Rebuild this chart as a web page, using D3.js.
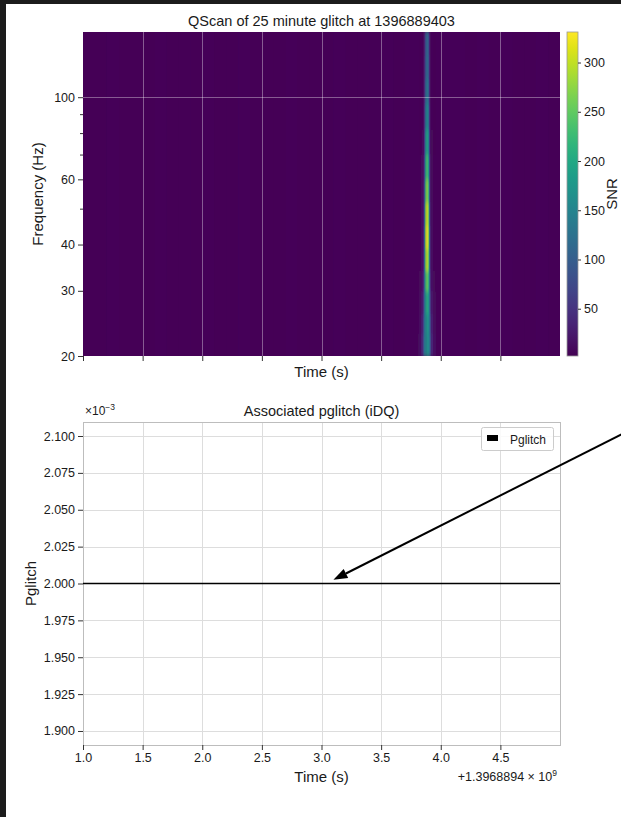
<!DOCTYPE html>
<html>
<head>
<meta charset="utf-8">
<script src="https://cdn.jsdelivr.net/npm/d3@7"></script>
<style>
  html, body { margin: 0; padding: 0; background: #ffffff; }
  svg { display: block; }
  text { font-family: "Liberation Sans", Arial, Helvetica, sans-serif; }
</style>
</head>
<body>
<script>
// ---- data -------------------------------------------------------------
// GPS times are stored as seconds after this offset.
const gpsOffset = 1396889400;
const timeRange = [1.0, 5.0];
const timeTicks = [1.0, 1.5, 2.0, 2.5, 3.0, 3.5, 4.0, 4.5];

// Q-scan axes
const freqRange = [20, 150];
const freqTicks = [20, 30, 40, 60, 100];
const freqMinorTicks = [50, 70, 80, 90];
const freqGridLines = [100];
const snrRange = [2, 331];
const snrTicks = [50, 100, 150, 200, 250, 300];

// Quiet background SNR, one value per 0.1 s column from 1.0 s to 5.0 s
const backgroundSnr = [
  5, 4, 6, 5, 4, 5, 6, 4, 5, 5,
  6, 4, 5, 6, 5, 4, 5, 6, 5, 4,
  5, 6, 4, 5, 5, 6, 5, 6, 7, 7,
  6, 6, 5, 6, 5, 6, 5, 5, 6, 5
];

// The glitch tile: time offsets (s) around the peak and frequency bin edges (Hz)
const glitchTime = 3.885;
const glitchOffsetEdges = [-0.07, -0.05, -0.035, -0.025, -0.015, -0.005, 0.005, 0.015, 0.025, 0.035, 0.05, 0.07];
const glitchFreqEdges = [20, 23, 26, 30, 34, 39, 45, 52, 60, 70, 82, 96, 112, 130, 150];
// SNR per frequency bin (low to high), one value per time offset column
const glitchSnr = [
  [15, 35, 80, 130, 160, 170, 160, 130, 80, 35, 15],
  [12, 30, 70, 125, 165, 180, 165, 125, 70, 30, 12],
  [10, 22, 55, 120, 185, 210, 185, 120, 55, 22, 10],
  [8, 16, 42, 120, 225, 260, 225, 120, 42, 16, 8],
  [7, 13, 35, 120, 265, 305, 265, 120, 35, 13, 7],
  [7, 12, 32, 115, 285, 330, 285, 115, 32, 12, 7],
  [6, 11, 28, 105, 270, 315, 270, 105, 28, 11, 6],
  [6, 10, 24, 90, 235, 280, 235, 90, 24, 10, 6],
  [6, 9, 20, 75, 200, 240, 200, 75, 20, 9, 6],
  [5, 8, 17, 62, 165, 200, 165, 62, 17, 8, 5],
  [5, 7, 14, 50, 135, 165, 135, 50, 14, 7, 5],
  [5, 7, 12, 42, 115, 140, 115, 42, 12, 7, 5],
  [5, 6, 11, 38, 100, 125, 100, 38, 11, 6, 5],
  [5, 6, 10, 35, 95, 120, 95, 35, 10, 6, 5]
];

// iDQ glitch probability
const pglitchTimes = [1.0, 2.0, 3.0, 4.0, 5.0];
const pglitchValues = [0.002, 0.002, 0.002, 0.002, 0.002];
const pglitchRange = [1.8905e-3, 2.1095e-3];
const pglitchTicks = [1.900, 1.925, 1.950, 1.975, 2.000, 2.025, 2.050, 2.075, 2.100];
const arrowTarget = { time: 3.1, value: 2.0025e-3 };

// ---- layout -----------------------------------------------------------
const W = 621, H = 817;
const qBox = { x0: 83, x1: 560, y0: 32, y1: 356 };
const pBox = { x0: 83, x1: 560, y0: 422, y1: 745 };
const cbar = { x0: 567, x1: 578 };
const textColor = "#1a1a1a";
const tickColor = "#333333";

const svg = d3.select("body").append("svg")
  .attr("width", W).attr("height", H);

const defs = svg.append("defs");

// ---- Q-scan panel ----------------------------------------------------
const xTop = d3.scaleLinear().domain(timeRange).range([qBox.x0, qBox.x1]);
const yFreq = d3.scaleLog().domain(freqRange).range([qBox.y1, qBox.y0]);
const snrColor = d3.scaleSequential(d3.interpolateViridis).domain(snrRange);

defs.append("clipPath").attr("id", "qclip")
  .append("rect")
  .attr("x", qBox.x0).attr("y", qBox.y0)
  .attr("width", qBox.x1 - qBox.x0).attr("height", qBox.y1 - qBox.y0);

const blur = defs.append("filter").attr("id", "soft")
  .attr("x", "-5%").attr("y", "-5%").attr("width", "110%").attr("height", "110%");
blur.append("feGaussianBlur").attr("stdDeviation", "0.7 2.5");

const qClip = svg.append("g").attr("clip-path", "url(#qclip)");
qClip.append("rect")
  .attr("x", qBox.x0).attr("y", qBox.y0)
  .attr("width", qBox.x1 - qBox.x0).attr("height", qBox.y1 - qBox.y0)
  .attr("fill", snrColor(5));

const heat = qClip.append("g").attr("filter", "url(#soft)");

const bgStep = (timeRange[1] - timeRange[0]) / backgroundSnr.length;
heat.selectAll("rect.bg")
  .data(backgroundSnr)
  .join("rect")
  .attr("class", "bg")
  .attr("x", (d, i) => xTop(timeRange[0] + i * bgStep))
  .attr("width", (d, i) => xTop(timeRange[0] + (i + 1) * bgStep) - xTop(timeRange[0] + i * bgStep) + 0.5)
  .attr("y", qBox.y0 - 6)
  .attr("height", qBox.y1 - qBox.y0 + 12)
  .attr("fill", d => snrColor(d));

const glitchCells = [];
glitchSnr.forEach((row, j) => {
  row.forEach((v, i) => {
    glitchCells.push({
      t0: glitchTime + glitchOffsetEdges[i],
      t1: glitchTime + glitchOffsetEdges[i + 1],
      f0: glitchFreqEdges[j],
      f1: glitchFreqEdges[j + 1],
      snr: v
    });
  });
});
heat.selectAll("rect.cell")
  .data(glitchCells)
  .join("rect")
  .attr("class", "cell")
  .attr("x", d => xTop(d.t0))
  .attr("width", d => xTop(d.t1) - xTop(d.t0) + 0.3)
  .attr("y", d => yFreq(d.f1))
  .attr("height", d => yFreq(d.f0) - yFreq(d.f1) + 0.3)
  .attr("fill", d => snrColor(d.snr));

// grid over the image
const qGrid = qClip.append("g")
  .attr("stroke", "#ffffff").attr("stroke-opacity", 0.45).attr("stroke-width", 0.8);
qGrid.selectAll("line.v")
  .data(timeTicks.filter(t => t > timeRange[0]))
  .join("line")
  .attr("x1", d => Math.round(xTop(d)) + 0.5).attr("x2", d => Math.round(xTop(d)) + 0.5)
  .attr("y1", qBox.y0).attr("y2", qBox.y1);
qGrid.selectAll("line.h")
  .data(freqGridLines)
  .join("line")
  .attr("y1", d => Math.round(yFreq(d)) + 0.5).attr("y2", d => Math.round(yFreq(d)) + 0.5)
  .attr("x1", qBox.x0).attr("x2", qBox.x1);

function styleAxis(g) {
  g.select(".domain").remove();
  g.selectAll(".tick line").attr("stroke", tickColor);
  g.selectAll(".tick text").attr("fill", textColor)
    .style("font-size", "12.5px")
    .style("font-family", '"Liberation Sans", Arial, sans-serif');
}

svg.append("g")
  .attr("transform", `translate(${qBox.x0},0)`)
  .call(d3.axisLeft(yFreq).tickValues(freqTicks).tickFormat(d3.format("d")).tickSize(5).tickPadding(3))
  .call(styleAxis);
svg.append("g")
  .attr("transform", `translate(${qBox.x0},0)`)
  .call(d3.axisLeft(yFreq).tickValues(freqMinorTicks).tickFormat("").tickSize(3))
  .call(styleAxis);
svg.append("g")
  .attr("transform", `translate(0,${qBox.y1})`)
  .call(d3.axisBottom(xTop).tickValues(timeTicks).tickFormat("").tickSize(5))
  .call(styleAxis);

svg.append("text")
  .attr("x", (qBox.x0 + qBox.x1) / 2).attr("y", 26)
  .attr("text-anchor", "middle").attr("fill", textColor)
  .style("font-size", "14.5px")
  .text("QScan of 25 minute glitch at 1396889403");

svg.append("text")
  .attr("x", (qBox.x0 + qBox.x1) / 2).attr("y", 377)
  .attr("text-anchor", "middle").attr("fill", textColor)
  .style("font-size", "15px")
  .text("Time (s)");

svg.append("text")
  .attr("transform", `translate(43,${(qBox.y0 + qBox.y1) / 2}) rotate(-90)`)
  .attr("text-anchor", "middle").attr("fill", textColor)
  .style("font-size", "15px")
  .text("Frequency (Hz)");

// colour bar
const ySnr = d3.scaleLinear().domain(snrRange).range([qBox.y1, qBox.y0]);
const grad = defs.append("linearGradient").attr("id", "viridisBar")
  .attr("x1", 0).attr("y1", 1).attr("x2", 0).attr("y2", 0);
grad.selectAll("stop")
  .data(d3.range(0, 1.0001, 0.05))
  .join("stop")
  .attr("offset", d => d)
  .attr("stop-color", d => d3.interpolateViridis(d));
svg.append("rect")
  .attr("x", cbar.x0).attr("y", qBox.y0)
  .attr("width", cbar.x1 - cbar.x0).attr("height", qBox.y1 - qBox.y0)
  .attr("fill", "url(#viridisBar)")
  .attr("stroke", "#9a9a9a").attr("stroke-width", 0.8);
svg.append("g")
  .attr("transform", `translate(${cbar.x1},0)`)
  .call(d3.axisRight(ySnr).tickValues(snrTicks).tickSize(3).tickPadding(3))
  .call(styleAxis);
svg.append("text")
  .attr("transform", `translate(617,${(qBox.y0 + qBox.y1) / 2}) rotate(-90)`)
  .attr("text-anchor", "middle").attr("fill", textColor)
  .style("font-size", "15px")
  .text("SNR");

// ---- pglitch panel ---------------------------------------------------
const xBot = d3.scaleLinear().domain(timeRange).range([pBox.x0, pBox.x1]);
const yP = d3.scaleLinear().domain(pglitchRange).range([pBox.y1, pBox.y0]);

const pGrid = svg.append("g").attr("stroke", "#dddddd").attr("stroke-width", 1);
pGrid.selectAll("line.v")
  .data(timeTicks)
  .join("line")
  .attr("x1", d => Math.round(xBot(d)) + 0.5).attr("x2", d => Math.round(xBot(d)) + 0.5)
  .attr("y1", pBox.y0).attr("y2", pBox.y1);
pGrid.selectAll("line.h")
  .data(pglitchTicks)
  .join("line")
  .attr("y1", d => Math.round(yP(d * 1e-3)) + 0.5).attr("y2", d => Math.round(yP(d * 1e-3)) + 0.5)
  .attr("x1", pBox.x0).attr("x2", pBox.x1);

svg.append("rect")
  .attr("x", pBox.x0 + 0.5).attr("y", pBox.y0 + 0.5)
  .attr("width", pBox.x1 - pBox.x0).attr("height", pBox.y1 - pBox.y0)
  .attr("fill", "none").attr("stroke", "#bdbdbd").attr("stroke-width", 1);

const pLine = d3.line()
  .x((d, i) => xBot(pglitchTimes[i]))
  .y(d => yP(d));
svg.append("path")
  .datum(pglitchValues)
  .attr("d", pLine)
  .attr("fill", "none").attr("stroke", "#000000").attr("stroke-width", 1.5);

svg.append("g")
  .attr("transform", `translate(${pBox.x0},0)`)
  .call(d3.axisLeft(yP).tickValues(pglitchTicks.map(v => v * 1e-3))
    .tickFormat(v => d3.format(".3f")(v * 1e3)).tickSize(5).tickPadding(3))
  .call(styleAxis);
svg.append("g")
  .attr("transform", `translate(0,${pBox.y1})`)
  .call(d3.axisBottom(xBot).tickValues(timeTicks).tickFormat(d3.format(".1f")).tickSize(5).tickPadding(3))
  .call(styleAxis);

svg.append("text")
  .attr("x", (pBox.x0 + pBox.x1) / 2).attr("y", 416)
  .attr("text-anchor", "middle").attr("fill", textColor)
  .style("font-size", "14.5px")
  .text("Associated pglitch (iDQ)");

const sci = svg.append("text")
  .attr("x", 85).attr("y", 415)
  .attr("fill", textColor).style("font-size", "12px");
sci.append("tspan").text("×10");
sci.append("tspan").attr("dy", -5).style("font-size", "8.5px").text("−3");

svg.append("text")
  .attr("x", (pBox.x0 + pBox.x1) / 2).attr("y", 782)
  .attr("text-anchor", "middle").attr("fill", textColor)
  .style("font-size", "15px")
  .text("Time (s)");

svg.append("text")
  .attr("transform", `translate(36,${(pBox.y0 + pBox.y1) / 2}) rotate(-90)`)
  .attr("text-anchor", "middle").attr("fill", textColor)
  .style("font-size", "15px")
  .text("Pglitch");

const off = svg.append("text")
  .attr("x", 557).attr("y", 781)
  .attr("text-anchor", "end").attr("fill", textColor)
  .style("font-size", "12.5px");
off.append("tspan").text(`+${d3.format(".7f")(gpsOffset / 1e9)} × 10`);
off.append("tspan").attr("dy", -5).style("font-size", "8.5px").text("9");

// legend
const leg = svg.append("g");
leg.append("rect")
  .attr("x", 481.5).attr("y", 427.5).attr("width", 72).attr("height", 23).attr("rx", 2)
  .attr("fill", "#ffffff").attr("fill-opacity", 0.85)
  .attr("stroke", "#cccccc").attr("stroke-width", 1);
leg.append("rect")
  .attr("x", 487).attr("y", 435).attr("width", 11).attr("height", 6)
  .attr("fill", "#000000");
leg.append("text")
  .attr("x", 510).attr("y", 443.5)
  .attr("fill", textColor).style("font-size", "12px")
  .text("Pglitch");

// annotation arrow pointing at the probability line
const tipX = xBot(arrowTarget.time), tipY = yP(arrowTarget.value);
const tailX = 632, tailY = 429;
const ang = Math.atan2(tipY - tailY, tipX - tailX);
const headLen = 14, headHalf = 5;
const baseX = tipX - headLen * Math.cos(ang), baseY = tipY - headLen * Math.sin(ang);
svg.append("line")
  .attr("x1", tailX).attr("y1", tailY).attr("x2", baseX).attr("y2", baseY)
  .attr("stroke", "#000000").attr("stroke-width", 2);
svg.append("path")
  .attr("d", `M${tipX},${tipY}L${baseX + headHalf * Math.sin(ang)},${baseY - headHalf * Math.cos(ang)}L${baseX - headHalf * Math.sin(ang)},${baseY + headHalf * Math.cos(ang)}Z`)
  .attr("fill", "#000000");

// dark window frame along the top and left edges
svg.append("rect").attr("x", 0).attr("y", 0).attr("width", W).attr("height", 4).attr("fill", "#1c1c1c");
svg.append("rect").attr("x", 0).attr("y", 0).attr("width", 6).attr("height", H).attr("fill", "#1c1c1c");
</script>
</body>
</html>
